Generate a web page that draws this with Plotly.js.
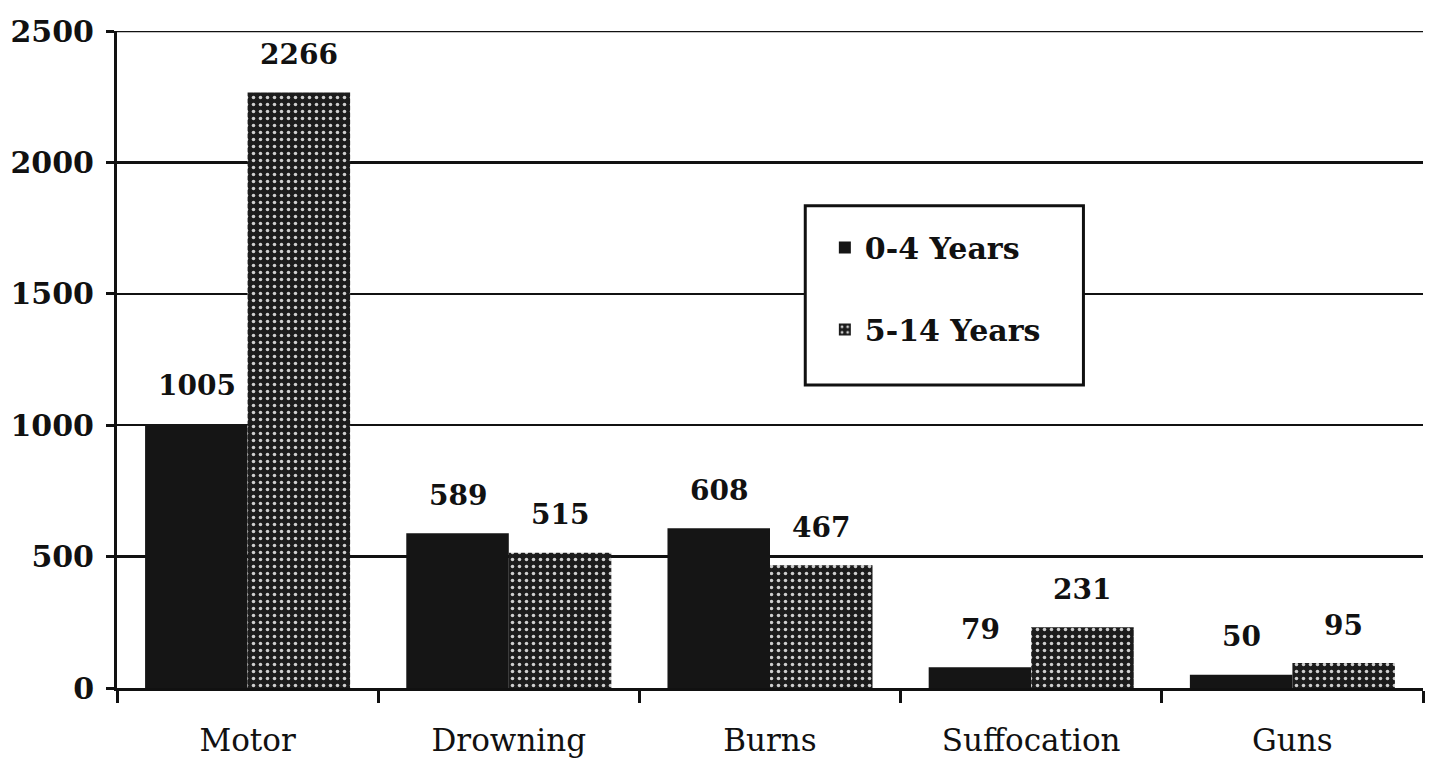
<!DOCTYPE html>
<html><head><meta charset="utf-8">
<script src="https://cdn.plot.ly/plotly-3.0.1.min.js"></script>
<style>html,body{margin:0;padding:0;background:#fff}#chart{width:1439px;height:759px}</style>
</head><body><div id="chart"></div>
<script>
const categories = ["Motor", "Drowning", "Burns", "Suffocation", "Guns"];
const seriesNames = ["0-4 Years", "5-14 Years"];
const young = [1005, 589, 608, 79, 50];
const older = [2266, 515, 467, 231, 95];
const yTicks = [0, 500, 1000, 1500, 2000, 2500];

const serif = "DejaVu Serif, Liberation Serif, serif";
const traces = [
  {type: "bar", name: seriesNames[0], x: categories, y: young, legendgroup: "a",
   marker: {color: "#151515", line: {width: 0}}, hoverinfo: "skip"},
  {type: "bar", name: seriesNames[1], x: categories, y: older, legendgroup: "b",
   marker: {color: "#1c1c1c", line: {width: 0},
            pattern: {shape: ".", fgcolor: "#cfcfcf", bgcolor: "#1c1c1c", fillmode: "replace", size: 7, solidity: 0.2}},
   hoverinfo: "skip"}
];

const annotations = [];
categories.forEach((c, i) => {
  annotations.push({x: c, y: young[i], xref: "x", yref: "y", text: String(young[i]), showarrow: false,
    xshift: -51, yshift: 38, font: {family: serif, size: 28, color: "#111", weight: "bold"}});
  annotations.push({x: c, y: older[i], xref: "x", yref: "y", text: String(older[i]), showarrow: false,
    xshift: 51, yshift: 38, font: {family: serif, size: 28, color: "#111", weight: "bold"}});
});

const layout = {
  width: 1439, height: 759,
  margin: {l: 117, r: 16, t: 31, b: 71},
  paper_bgcolor: "#fff", plot_bgcolor: "#fff",
  barmode: "group", bargap: 0.215, bargroupgap: 0,
  xaxis: {type: "category", showgrid: false, showline: true, linecolor: "#111", linewidth: 3,
    ticks: "outside", tickson: "boundaries", ticklen: 12, tickwidth: 3, tickcolor: "#111",
    ticklabelstandoff: 23, tickfont: {family: serif, size: 31, color: "#111"}, zeroline: false},
  yaxis: {range: [0, 2500], tickvals: yTicks, showgrid: true, gridcolor: "#111", gridwidth: 2.5,
    showline: true, linecolor: "#111", linewidth: 3, ticks: "outside", ticklen: 8, tickwidth: 3,
    tickcolor: "#111", zeroline: false, ticklabelstandoff: 6,
    tickfont: {family: serif, size: 30, color: "#111", weight: "bold"}},
  showlegend: true,
  legend: {x: 0.542, y: 0.71, xanchor: "left", yanchor: "top", bgcolor: "rgba(0,0,0,0)", borderwidth: 0,
    traceorder: "grouped", tracegroupgap: 40,
    font: {family: serif, size: 30, color: "#111", weight: "bold"}},
  shapes: [
    {type: "line", xref: "paper", yref: "y", x0: 0, x1: 1, y0: 2500, y1: 2500,
     line: {color: "#111", width: 2.5}, layer: "below"},
    {type: "rect", xref: "paper", yref: "paper", x0: 0.527, x1: 0.740, y0: 0.461, y1: 0.734,
     fillcolor: "#fff", line: {color: "#111", width: 3}, layer: "above"}],
  annotations: annotations
};
Plotly.newPlot("chart", traces, layout, {displayModeBar: false, staticPlot: true});
</script></body></html>
